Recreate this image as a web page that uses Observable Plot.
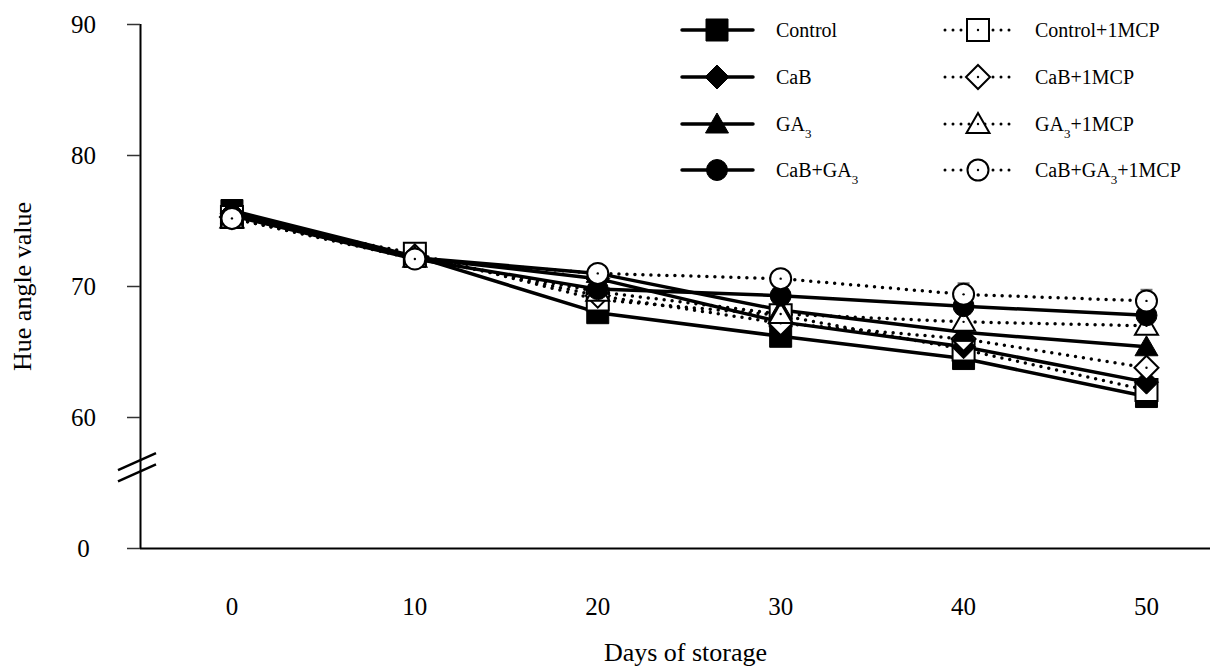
<!DOCTYPE html>
<html><head><meta charset="utf-8">
<script src="https://cdn.jsdelivr.net/npm/d3@7"></script>
<script src="https://cdn.jsdelivr.net/npm/@observablehq/plot@0.6"></script>
<style>
html,body{margin:0;padding:0;background:#fff;}
#chart{width:1227px;height:672px;}
</style></head><body><div id="chart"></div>
<script>
// ---- data ----
const days = [0, 10, 20, 30, 40, 50];
const seriesNames = ["Control", "CaB", "GA3", "CaB+GA3", "Control+1MCP", "CaB+1MCP", "GA3+1MCP", "CaB+GA3+1MCP"];
const control        = [75.8, 72.3, 68.0, 66.2, 64.5, 61.6];
const cab            = [75.6, 72.2, 70.6, 67.3, 65.4, 62.7];
const ga3            = [75.5, 72.2, 71.0, 68.2, 66.5, 65.4];
const cabGa3         = [75.4, 72.1, 69.8, 69.3, 68.5, 67.8];
const control1mcp    = [75.3, 72.5, 69.0, 67.8, 65.2, 62.1];
const cab1mcp        = [75.3, 72.3, 69.3, 67.2, 66.0, 63.8];
const ga31mcp        = [75.2, 72.2, 69.6, 67.9, 67.3, 67.0];
const cabGa31mcp     = [75.2, 72.1, 71.0, 70.6, 69.4, 68.9];
const cabGa31mcpErr  = [0, 0, 0, 0, 0.85, 0.85];
const yTickValues = [50, 60, 70, 80, 90];
const yTickLabels = ["0", "60", "70", "80", "90"];
const xTickValues = [0, 10, 20, 30, 40, 50];
const xTitle = "Days of storage";
const yTitle = "Hue angle value";

const seriesValues = {
  "Control": control, "CaB": cab, "GA3": ga3, "CaB+GA3": cabGa3,
  "Control+1MCP": control1mcp, "CaB+1MCP": cab1mcp, "GA3+1MCP": ga31mcp, "CaB+GA3+1MCP": cabGa31mcp
};

// ---- styles ----
const FONT = "'Liberation Serif', 'Times New Roman', serif";
const sym = {
  square:   {draw(c){ c.rect(-11, -11, 22, 22); }},
  diamond:  {draw(c){ c.moveTo(0,-12); c.lineTo(12,0); c.lineTo(0,12); c.lineTo(-12,0); c.closePath(); }},
  triangle: {draw(c){ c.moveTo(0,-11); c.lineTo(11.5,9); c.lineTo(-11.5,9); c.closePath(); }},
  circle:   {draw(c){ c.moveTo(10.5,0); c.arc(0,0,10.5,0,2*Math.PI); }},
  cap:      {draw(c){ c.moveTo(-6,0); c.lineTo(6,0); }}
};
const style = {
  "Control":       {shape:"square",   open:false},
  "CaB":           {shape:"diamond",  open:false},
  "GA3":           {shape:"triangle", open:false},
  "CaB+GA3":       {shape:"circle",   open:false},
  "Control+1MCP":  {shape:"square",   open:true},
  "CaB+1MCP":      {shape:"diamond",  open:true},
  "GA3+1MCP":      {shape:"triangle", open:true},
  "CaB+GA3+1MCP":  {shape:"circle",   open:true}
};
const drawOrder = ["Control","Control+1MCP","CaB","CaB+1MCP","GA3","GA3+1MCP","CaB+GA3","CaB+GA3+1MCP"];

const rows = name => days.map((d, i) => ({day: d, value: seriesValues[name][i], name}));
const errRows = days.map((d, i) => ({day: d, lo: cabGa31mcp[i] - cabGa31mcpErr[i], hi: cabGa31mcp[i] + cabGa31mcpErr[i], e: cabGa31mcpErr[i]})).filter(r => r.e > 0);

const marks = [];
marks.push(Plot.ruleY([50], {stroke: "black", strokeWidth: 2}));
marks.push(Plot.ruleX([-5], {stroke: "black", strokeWidth: 2}));
for (const n of drawOrder) {
  const s = style[n];
  marks.push(Plot.line(rows(n), {x: "day", y: "value", stroke: "black", strokeWidth: 3.5,
    strokeDasharray: s.open ? "0 8" : null, strokeLinecap: s.open ? "round" : "butt"}));
}
marks.push(Plot.ruleX(errRows, {x: "day", y1: "lo", y2: "hi", stroke: "#777", strokeWidth: 1.5}));
marks.push(Plot.dot(errRows, {x: "day", y: "hi", symbol: sym.cap, stroke: "#777", strokeWidth: 2}));
for (const n of drawOrder) {
  const s = style[n];
  marks.push(Plot.dot(rows(n), {x: "day", y: "value", symbol: sym[s.shape], r: 11,
    fill: s.open ? "white" : "black", stroke: "black", strokeWidth: s.open ? 2 : 1}));
  if (s.open) marks.push(Plot.dot(rows(n), {x: "day", y: "value", r: 1.2, fill: "black", stroke: null}));
}
marks.push(Plot.axisY({ticks: yTickValues, tickFormat: d => yTickLabels[yTickValues.indexOf(d)],
  tickSize: 13, tickPadding: 44, textAnchor: "middle", stroke: "#333", strokeWidth: 1.5,
  fontSize: 25, label: yTitle, labelAnchor: "center", labelArrow: "none", labelOffset: 128, fill: "black"}));
marks.push(Plot.axisX({ticks: xTickValues, tickSize: 0, tickPadding: 49, tickFormat: d => String(d),
  fontSize: 25, label: null, fill: "black"}));
marks.push(Plot.text([xTitle], {frameAnchor: "bottom", dy: 112, dx: 10, fontSize: 26, fill: "black"}));

const plot = Plot.plot({
  width: 1227, height: 672,
  marginLeft: 140, marginRight: 17, marginTop: 24, marginBottom: 124,
  style: {fontFamily: FONT, fontSize: "25px", color: "black", background: "white"},
  x: {domain: [-5, 53.5]},
  y: {domain: [50, 90]},
  marks
});
document.getElementById("chart").appendChild(plot);
d3.select(plot).selectAll("[aria-label='y-axis label'] text, [aria-label='y-axis label']").attr("font-size", 26);

// ---- axis break and legend (pixel space) ----
const svg = d3.select(plot);
const xs = plot.scale("x"), ys = plot.scale("y");
const ax = xs.apply(-5);
for (const v of [56.7, 55.85]) {
  const yy = ys.apply(v);
  svg.append("line").attr("x1", ax - 22).attr("y1", yy + 10).attr("x2", ax + 16).attr("y2", yy - 7)
    .attr("stroke", "black").attr("stroke-width", 2.5);
}

function addLabel(g, x, y, name) {
  const t = g.append("text").attr("x", x).attr("y", y + 7).attr("font-size", 20)
    .attr("font-family", FONT).attr("text-anchor", "start").attr("fill", "black");
  const parts = name.split(/(GA3)/).filter(p => p);
  let shift = 0;
  for (const p of parts) {
    if (p === "GA3") {
      t.append("tspan").text("GA").attr("dy", -shift || null);
      t.append("tspan").text("3").attr("font-size", 13).attr("dy", 7);
      shift = 7;
    } else {
      t.append("tspan").text(p).attr("dy", shift ? -shift : null);
      shift = 0;
    }
  }
}
function addSymbol(g, cx, cy, s) {
  const path = d3.path();
  sym[s.shape].draw(path);
  g.append("path").attr("d", path.toString()).attr("transform", `translate(${cx},${cy})`)
    .attr("fill", s.open ? "white" : "black").attr("stroke", "black").attr("stroke-width", s.open ? 2 : 1);
  if (s.open) g.append("circle").attr("cx", cx).attr("cy", cy).attr("r", 1.2).attr("fill", "black");
}
const lg = svg.append("g");
const rowY = [30, 77, 124, 170];
const cols = [
  {names: seriesNames.slice(0, 4), x1: 682, x2: 753, mx: 717, tx: 776},
  {names: seriesNames.slice(4, 8), x1: 945, x2: 1013, mx: 978, tx: 1035}
];
for (const c of cols) {
  c.names.forEach((n, i) => {
    const s = style[n];
    const y = rowY[i];
    lg.append("line").attr("x1", c.x1).attr("x2", c.x2).attr("y1", y).attr("y2", y)
      .attr("stroke", "black").attr("stroke-width", s.open ? 3 : 3.5)
      .attr("stroke-dasharray", s.open ? "0 8" : null).attr("stroke-linecap", "round");
    addSymbol(lg, c.mx, y, s);
    addLabel(lg, c.tx, y, n);
  });
}
</script></body></html>
